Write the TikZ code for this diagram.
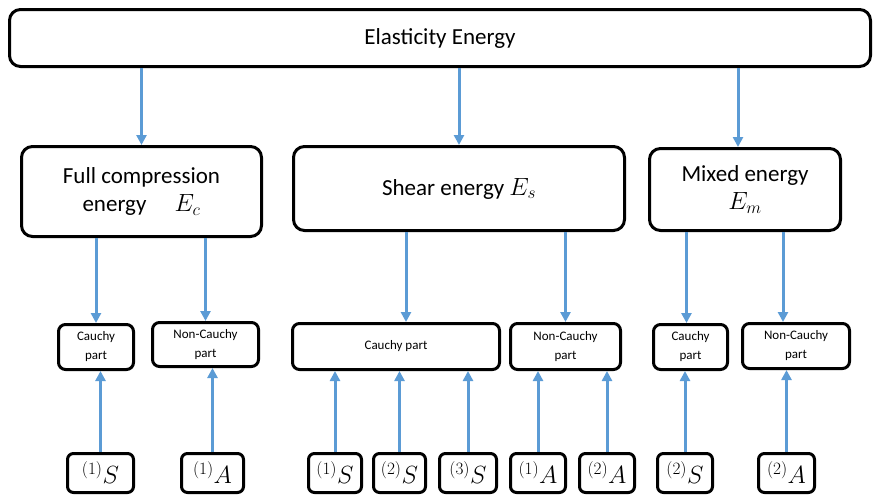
\documentclass[tikz,border=0pt]{standalone}
\usepackage{fontspec}
\setmainfont{Carlito}
\usetikzlibrary{arrows.meta,positioning}
\definecolor{linkblue}{HTML}{5B9BD5}
\newcommand{\emath}[1]{{\fontsize{26}{28}\selectfont$#1$}}

\begin{document}
\begin{tikzpicture}[x=1pt,y=-1pt,
  box/.style={draw,line width=3pt,rounded corners=11pt,align=center,
              inner sep=2pt,font=\fontsize{23}{28}\selectfont},
  part/.style={draw,line width=3pt,rounded corners=7pt,align=center,
               inner sep=1pt,font=\fontsize{13}{19}\selectfont},
  leaf/.style={draw,line width=3pt,rounded corners=6pt,minimum height=39pt,
               inner sep=1pt,font=\fontsize{25}{26}\selectfont},
  link/.style={-{Triangle[length=10pt,width=10pt]},line width=3pt,draw=linkblue}]
   \useasboundingbox (0,0) rectangle (878,498);

   % energies
   \node[box,minimum width=861pt,minimum height=57pt] (ee) at (440,38) {Elasticity Energy};
   \node[box,minimum width=240pt,minimum height=90pt] (fc) at (141.5,191.5)
        {Full compression\\energy \quad \emath{E_c}};
   \node[box,minimum width=331pt,minimum height=84pt] (se) at (459,188.5) {Shear energy \emath{E_s}};
   \node[box,minimum width=191pt,minimum height=82pt] (me) at (745,189.5) {Mixed energy\\\emath{E_m}};

   % parts
   \node[part,minimum width=75pt,minimum height=45pt] (cp1) at (96,347) {Cauchy\\part};
   \node[part,minimum width=106pt,minimum height=44pt] (nc1) at (205.5,344.5) {Non-Cauchy\\part};
   \node[part,minimum width=207pt,minimum height=46pt] (cp2) at (396,346.5) {Cauchy part};
   \node[part,minimum width=110pt,minimum height=46pt] (nc2) at (565.5,346.5) {Non-Cauchy\\part};
   \node[part,minimum width=74pt,minimum height=45pt] (cp3) at (690.5,347) {Cauchy\\part};
   \node[part,minimum width=107pt,minimum height=45pt] (nc3) at (796,346) {Non-Cauchy\\part};

   % tensors
   \node[leaf,minimum width=66pt] (s11) at (100.5,473) {${}^{(1)}S$};
   \node[leaf,minimum width=62pt] (a11) at (212.5,473) {${}^{(1)}A$};
   \node[leaf,minimum width=53pt] (s21) at (335,473) {${}^{(1)}S$};
   \node[leaf,minimum width=52pt] (s22) at (399.5,473) {${}^{(2)}S$};
   \node[leaf,minimum width=57pt] (s23) at (468,473) {${}^{(3)}S$};
   \node[leaf,minimum width=55pt] (a21) at (538,473) {${}^{(1)}A$};
   \node[leaf,minimum width=55pt] (a22) at (607,473) {${}^{(2)}A$};
   \node[leaf,minimum width=55pt] (s32) at (685,473) {${}^{(2)}S$};
   \node[leaf,minimum width=56pt] (a32) at (786.5,473) {${}^{(2)}A$};

   \draw[link] (fc.north |- ee.south) -- (fc.north);
   \draw[link] (se.north |- ee.south) -- (se.north);
   \draw[link] ([xshift=-7pt]me.north |- ee.south) -- ([xshift=-7pt]me.north);

   \draw[link] (cp1.north |- fc.south) -- (cp1.north);
   \draw[link] (nc1.north |- fc.south) -- (nc1.north);
   \draw[link] ([xshift=10pt]cp2.north |- se.south) -- ([xshift=10pt]cp2.north);
   \draw[link] (nc2.north |- se.south) -- (nc2.north);
   \draw[link] ([xshift=-4pt]cp3.north |- me.south) -- ([xshift=-4pt]cp3.north);
   \draw[link] ([xshift=-13pt]nc3.north |- me.south) -- ([xshift=-13pt]nc3.north);

   \foreach \t/\p in {s11/cp1,a11/nc1,s21/cp2,s22/cp2,s23/cp2,a21/nc2,a22/nc2,s32/cp3,a32/nc3}
     \draw[link] (\t.north) -- (\t.north |- \p.south);
\end{tikzpicture}
\end{document}
